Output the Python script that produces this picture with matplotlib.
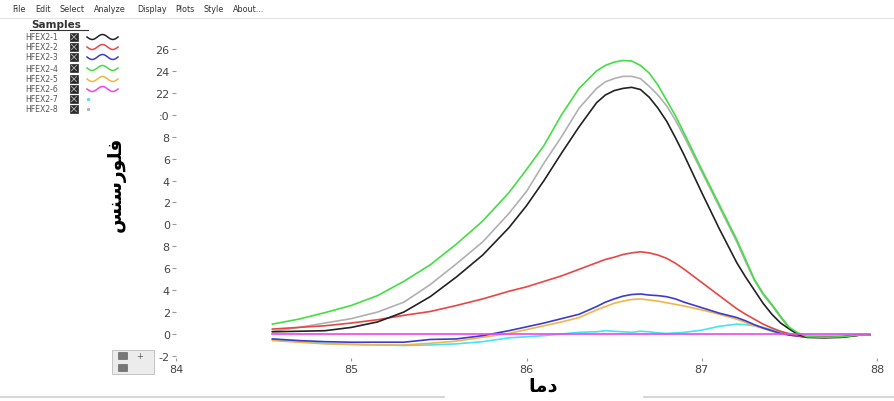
import numpy as np
import matplotlib.pyplot as plt
from matplotlib.patches import Rectangle

# temperature grid (degrees)
temp = [84.55, 84.7, 84.85, 85.0, 85.15, 85.3, 85.45, 85.6, 85.75, 85.9,
        86.0, 86.1, 86.2, 86.3, 86.4, 86.45, 86.5, 86.55, 86.6, 86.65,
        86.7, 86.75, 86.8, 86.85, 86.9, 87.0, 87.1, 87.2, 87.25, 87.3,
        87.35, 87.4, 87.45, 87.5, 87.55, 87.6, 87.7, 87.8, 87.9, 87.96]

hfex2_1 = [0.2, 0.25, 0.3, 0.6, 1.1, 2.0, 3.4, 5.2, 7.2, 9.7,
           11.7, 14.0, 16.5, 18.9, 21.1, 21.8, 22.2, 22.4, 22.5, 22.3,
           21.6, 20.6, 19.4, 17.9, 16.3, 12.9, 9.6, 6.5, 5.2, 4.0,
           2.8, 1.8, 1.0, 0.45, -0.05, -0.3, -0.35, -0.3, -0.1, -0.1]
hfex2_2 = [0.45, 0.6, 0.75, 1.0, 1.3, 1.7, 2.05, 2.6, 3.2, 3.9,
           4.3, 4.8, 5.3, 5.9, 6.5, 6.8, 7.0, 7.25, 7.4, 7.5,
           7.4, 7.2, 6.9, 6.45, 5.9, 4.7, 3.5, 2.3, 1.8, 1.35,
           0.9, 0.55, 0.25, 0.0, -0.15, -0.3, -0.3, -0.3, -0.1, -0.1]
hfex2_3 = [-0.45, -0.6, -0.7, -0.75, -0.75, -0.75, -0.5, -0.45, -0.15, 0.3,
           0.65, 1.0, 1.4, 1.8, 2.5, 2.9, 3.2, 3.45, 3.6, 3.65,
           3.55, 3.5, 3.4, 3.2, 2.9, 2.4, 1.9, 1.5, 1.2, 0.85,
           0.55, 0.3, 0.05, -0.1, -0.2, -0.3, -0.3, -0.25, -0.1, -0.1]
hfex2_4 = [0.9, 1.35, 1.95, 2.6, 3.5, 4.8, 6.3, 8.2, 10.3, 12.9,
           15.0, 17.2, 20.0, 22.4, 24.0, 24.5, 24.8, 24.95, 24.9, 24.5,
           23.8, 22.7, 21.3, 19.9, 18.3, 15.0, 11.8, 8.6, 6.8, 5.0,
           3.7, 2.7, 1.6, 0.6, 0.1, -0.25, -0.3, -0.25, -0.1, -0.1]
hfex2_5 = [-0.6, -0.75, -0.9, -0.95, -1.0, -1.0, -0.85, -0.65, -0.3, 0.05,
           0.4, 0.75, 1.1, 1.5, 2.2, 2.5, 2.8, 3.0, 3.15, 3.2,
           3.1, 3.0, 2.85, 2.7, 2.55, 2.2, 1.8, 1.35, 1.05, 0.75,
           0.5, 0.25, 0.05, -0.1, -0.2, -0.25, -0.3, -0.25, -0.1, -0.1]
hfex2_6 = [0.0] * len(temp)
hfex2_7 = [-0.5, -0.7, -0.85, -0.95, -1.0, -1.05, -1.0, -0.9, -0.7, -0.35,
           -0.25, -0.15, 0.0, 0.15, 0.2, 0.3, 0.25, 0.2, 0.15, 0.25,
           0.2, 0.1, 0.05, 0.1, 0.15, 0.35, 0.7, 0.9, 0.85, 0.75,
           0.6, 0.4, 0.2, 0.05, -0.05, -0.1, -0.15, -0.1, -0.05, -0.05]
hfex2_8 = [0.25, 0.6, 1.0, 1.4, 2.0, 2.9, 4.5, 6.4, 8.4, 11.0,
           13.0, 15.6, 18.0, 20.6, 22.4, 23.0, 23.3, 23.5, 23.5, 23.3,
           22.6, 21.8, 20.8, 19.5, 18.0, 14.8, 11.6, 8.4, 6.6, 4.9,
           3.6, 2.6, 1.5, 0.5, 0.05, -0.25, -0.3, -0.25, -0.1, -0.1]

sample_names = ["HFEX2-1", "HFEX2-2", "HFEX2-3", "HFEX2-4",
                "HFEX2-5", "HFEX2-6", "HFEX2-7", "HFEX2-8"]
series = [hfex2_1, hfex2_2, hfex2_3, hfex2_4, hfex2_5, hfex2_6, hfex2_7, hfex2_8]
colors = ["#222222", "#e84545", "#3b3bcc", "#44dd44",
          "#f2b545", "#ee44ee", "#44e4f4", "#b0b0b0"]

x_ticks = [84, 85, 86, 87, 88]
y_ticks = [26, 24, 22, 20, 18, 16, 14, 12, 10, 8, 6, 4, 2, 0, -2]
# the screenshot cut the leading digits of the tick labels
y_tick_labels = ["26", "24", "22", ":0", "8", "6", "4", "2", "0",
                 "8", "6", "4", "2", "0", "-2"]

menu_items = ["File", "Edit", "Select", "Analyze", "Display", "Plots", "Style", "About..."]

# Persian labels, pre-shaped (presentation forms, visual order)
ylab = "\uFEB2\uFEE8\uFEB3\uFEAD\uFEEE\uFEE0\uFED3"   # فلورسنس
xlab = "\uFE8E\uFEE3\uFEA9"                          # دما

W, H = 894, 402
fig = plt.figure(figsize=(W / 100, H / 100), dpi=100)

ax = fig.add_axes([176 / W, 0.1067, 701 / W, 0.7963])
draw_order = [6, 7, 4, 2, 1, 0, 3, 5]
for i in draw_order:
    ax.plot(temp, series[i], color=colors[i], lw=1.2,
            solid_joinstyle="round", zorder=2 + draw_order.index(i))

ax.set_xlim(84, 88)
ax.set_ylim(-2.2, 27)
for s in ax.spines.values():
    s.set_visible(False)
ax.set_xticks(x_ticks)
ax.set_xticklabels([str(t) for t in x_ticks])
ax.set_yticks(y_ticks)
ax.set_yticklabels(y_tick_labels)
ax.tick_params(axis="y", length=3, width=0.8, color="#999999", pad=1.5,
               labelsize=8, labelcolor="#444444")
ax.tick_params(axis="x", length=2, width=0.8, color="#999999", pad=2,
               labelsize=8, labelcolor="#444444")

fig.text(116 / W, 1 - 184 / H, ylab, rotation=90, ha="center", va="center",
         fontsize=13.5, fontweight="bold", family="DejaVu Sans")
fig.text(543 / W, 1 - 386 / H, xlab, ha="center", va="center",
         fontsize=14, fontweight="bold", family="DejaVu Sans")

# overlay axes in pixel units for the window chrome and legend
ov = fig.add_axes([0, 0, 1, 1], zorder=-1)
ov.set_xlim(0, W)
ov.set_ylim(H, 0)
ov.axis("off")

menu_x = [12, 35, 59, 94, 137, 175, 203, 233]
for mx, item in zip(menu_x, menu_items):
    ov.text(mx, 9, item, fontsize=5.8, color="#333333", va="center", ha="left")
ov.plot([0, W], [19, 19], color="#e4e4e4", lw=0.8)
ov.plot([0, 444], [398, 398], color="#cfcfcf", lw=1.2)
ov.plot([644, W], [398, 398], color="#cfcfcf", lw=1.2)

# legend box
ov.text(56, 25, "Samples", fontsize=7.5, fontweight="bold", color="#333333",
        ha="center", va="center")
ov.plot([30, 88], [30.5, 30.5], color="#333333", lw=0.8)
row_y = [38, 48, 58, 69, 80, 90, 100, 110]
wave = np.linspace(0, 1, 30)
for ry, name, c in zip(row_y, sample_names, colors):
    ov.text(25, ry, name, fontsize=5.6, color="#555555", va="center", ha="left")
    ov.add_patch(Rectangle((70, ry - 4), 8, 8, fc="#2a2a2a", ec="#2a2a2a", lw=0.5))
    ov.plot([71.5, 76.5], [ry - 2.5, ry + 2.5], color="#bbbbbb", lw=0.6)
    ov.plot([71.5, 76.5], [ry + 2.5, ry - 2.5], color="#bbbbbb", lw=0.6)
    if name in ("HFEX2-7", "HFEX2-8"):
        ov.plot([88], [ry], marker="s", ms=1.2, color=c, mec=c)
    else:
        ov.plot(87 + 31 * wave, ry + 2.5 * np.sin(wave * 3.0 * np.pi), color=c, lw=1.1)

# zoom buttons at lower left
ov.add_patch(Rectangle((112, 351), 42, 24, fc="#ececec", ec="#bbbbbb", lw=0.6))
ov.add_patch(Rectangle((118, 353), 9, 7, fc="#777777", ec="#555555", lw=0.4))
ov.add_patch(Rectangle((118, 365), 9, 7, fc="#777777", ec="#555555", lw=0.4))
ov.text(140, 357, "+", fontsize=6, color="#555555", ha="center", va="center")

fig.savefig("out.png", dpi=100)
